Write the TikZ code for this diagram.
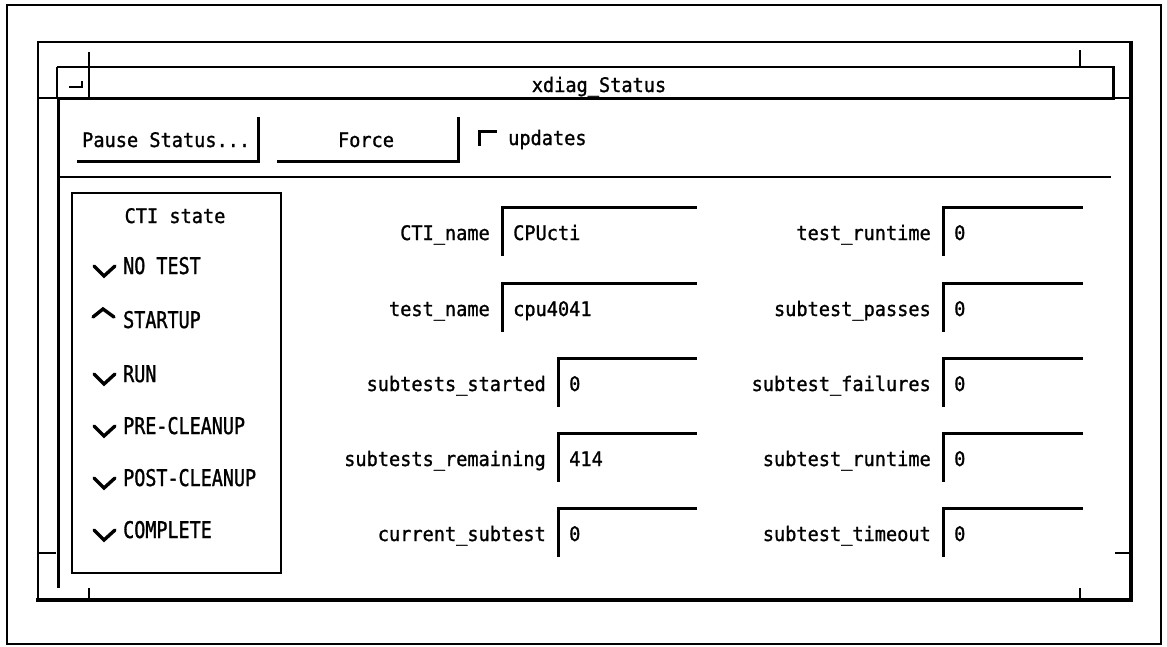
\documentclass[tikz,border=0pt]{standalone}
\usepackage{fontspec}
\newfontfamily\uifont[FakeStretch=0.93,FakeBold=1.2]{DejaVu Sans Mono}
\newfontfamily\statefont[FakeStretch=0.80,FakeBold=1.2]{DejaVu Sans Mono}

\begin{document}
\begin{tikzpicture}[x=1pt,y=-1pt,
  line join=miter,
  frame/.style={line width=1.8pt},
  edge/.style={line width=2.4pt},
  heavy/.style={line width=4.6pt},
  notch/.style={line width=1.6pt},
  bevel/.style={line width=3pt},
  txt/.style={font=\uifont\fontsize{20}{24}\selectfont, inner sep=0pt},
  statetxt/.style={font=\statefont\fontsize{23}{26}\selectfont, inner sep=0pt, anchor=base west},
  tick/.style={line width=3.4pt, line cap=round}
]
\useasboundingbox (0,0) rectangle (1167,646);

% outer page frame
\draw[frame] (7,5) rectangle (1161,644);

% window border
\draw[edge] (38,601) -- (38,42) -- (1133,42);
\draw[heavy] (1131,42) -- (1131,600) -- (36,600);
\draw[bevel] (58,98) -- (58,588);
% resize notches
\draw[notch] (38,98) -- (57,98);
\draw[notch] (38,553) -- (56,553);
\draw[notch] (1115,98) -- (1131,98);
\draw[notch] (1115,553) -- (1131,553);
\draw[edge] (89,52) -- (89,67);
\draw[edge] (1080,50) -- (1080,67);
\draw[edge] (89,588) -- (89,600);
\draw[edge] (1080,588) -- (1080,600);

% title bar
\draw[edge] (57,67) -- (1115,67);
\draw[bevel] (57,98) -- (1113,98) -- (1113,67);
\draw[edge] (57,67) -- (57,98);
\draw[edge] (89,67) -- (89,98);
\draw[edge] (69,87) -- (82,87) -- (82,81);
\node[txt, anchor=base] (title) at (599,92) {xdiag\_Status};

% button row
\draw[bevel] (77,161) -- (258,161) -- (258,117);
\node[txt, anchor=base west] (pause) at (82,147) {Pause Status...};
\draw[bevel] (277,161) -- (458,161) -- (458,117);
\node[txt, anchor=base] (force) at (366,147) {Force};
\draw[bevel] (479,146) -- (479,131) -- (497,131);
\node[txt, anchor=base west] (updates) at (508,145) {updates};
\draw[notch] (59,177) -- (1111,177);

% CTI state list
\draw[edge] (72,193) rectangle (281,573);
\node[txt, anchor=base] (ctistate) at (175,223) {CTI state};
\foreach \lab/\y [count=\i] in {NO TEST/274, STARTUP/328, RUN/382, PRE-CLEANUP/434, POST-CLEANUP/486, COMPLETE/538}{
  \node[statetxt] (state\i) at (123,\y) {\lab};
}
\foreach \y in {274,382,434,486,538}{
  \draw[tick] (94,\y-8) -- (104,\y+2) -- (115,\y-8);
}
\draw[tick] (93,317) -- (103,309) -- (114,317);

% left column of fields
\foreach \lab/\val/\t/\L [count=\i] in {CTI\_name/CPUcti/207/502, test\_name/cpu4041/283/502, subtests\_started/0/358/558, subtests\_remaining/414/433/558, current\_subtest/0/508/558}{
  \draw[bevel] (\L,\t+49) -- (\L,\t) -- (697,\t);
  \node[txt, anchor=base east] (lname\i) at (\L-12,\t+33) {\lab};
  \node[txt, anchor=base west] (lval\i) at (\L+11,\t+33) {\val};
}

% right column of fields
\foreach \lab/\t [count=\i] in {test\_runtime/207, subtest\_passes/283, subtest\_failures/358, subtest\_runtime/433, subtest\_timeout/508}{
  \draw[bevel] (943,\t+49) -- (943,\t) -- (1083,\t);
  \node[txt, anchor=base east] (rname\i) at (931,\t+33) {\lab};
  \node[txt, anchor=base west] (rval\i) at (954,\t+33) {0};
}
\end{tikzpicture}
\end{document}
